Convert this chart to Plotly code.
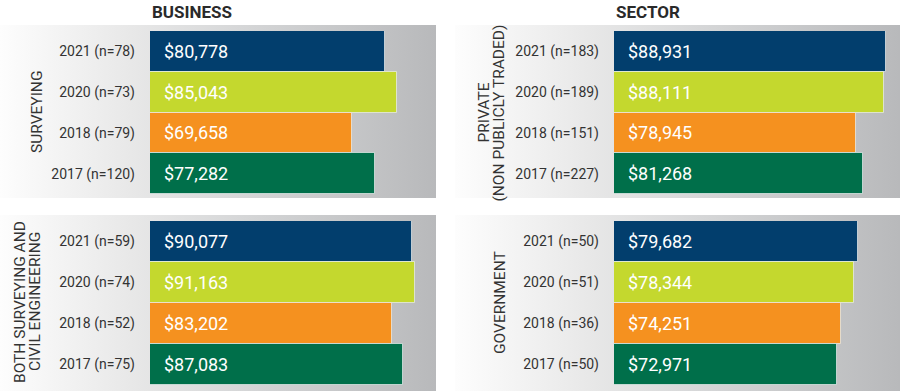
import plotly.graph_objects as go

# ---- data ----
years = ["2021", "2020", "2018", "2017"]
bar_colors = ["#023e6d", "#c4d82e", "#f5911f", "#006f4a"]

panel_titles = ["BUSINESS", "SECTOR"]
group_labels = ["SURVEYING", "PRIVATE<br>(NON PUBLICLY TRADED)",
                "BOTH SURVEYING AND<br>CIVIL ENGINEERING", "GOVERNMENT"]

surveying_n = [78, 73, 79, 120]
surveying_vals = [80778, 85043, 69658, 77282]

private_n = [183, 189, 151, 227]
private_vals = [88931, 88111, 78945, 81268]

both_n = [59, 74, 52, 75]
both_vals = [90077, 91163, 83202, 87083]

gov_n = [50, 51, 36, 50]
gov_vals = [79682, 78344, 74251, 72971]

panels = [
    (surveying_n, surveying_vals),
    (private_n, private_vals),
    (both_n, both_vals),
    (gov_n, gov_vals),
]

W, H = 900, 391
FONT = "Roboto"

fig = go.Figure()

# ---- background panels (gradient) on a full-figure axis ----
bg_boxes = [(0, 436, 25, 198), (455, 900, 25, 198), (0, 436, 215, 391), (455, 900, 215, 391)]
for (x0, x1, y0, y1) in bg_boxes:
    fig.add_trace(go.Scatter(
        x=[x0, x1, x1, x0, x0], y=[y0, y0, y1, y1, y0],
        mode="lines", line=dict(width=0), fill="toself",
        fillgradient=dict(type="horizontal",
                          colorscale=[[0, "#fdfdfd"], [0.3, "#e8e8e8"], [0.55, "#d6d7d8"], [1, "#b8b9bb"]]),
        hoverinfo="skip", showlegend=False, xaxis="x", yaxis="y"))

fig.update_layout(
    xaxis=dict(domain=[0, 1], range=[0, W], visible=False, fixedrange=True),
    yaxis=dict(domain=[0, 1], range=[H, 0], visible=False, fixedrange=True),
)

# ---- bar panels ----
x_dom = [[150 / W, 436 / W], [614 / W, 1.0]]
x_max = [98450, 93460]
y_dom = [[1 - 194 / H, 1 - 31 / H], [1 - 385 / H, 1 - 221 / H]]

annotations = []
for i, (ns, vals) in enumerate(panels):
    col = i % 2
    row = i // 2
    k = i + 2
    xa, ya = f"x{k}", f"y{k}"
    cats = [f"{y} (n={n})" for y, n in zip(years, ns)]
    fig.add_trace(go.Bar(
        x=vals, y=cats, orientation="h",
        marker=dict(color=bar_colors, line=dict(color="rgba(235,240,240,0.7)", width=1)),
        hoverinfo="skip", showlegend=False, xaxis=xa, yaxis=ya))
    fig.layout[f"xaxis{k}"] = dict(domain=x_dom[col], range=[0, x_max[col]], visible=False,
                                   anchor=ya, fixedrange=True)
    fig.layout[f"yaxis{k}"] = dict(domain=y_dom[row], anchor=xa, type="category",
                                   autorange="reversed", showgrid=False, zeroline=False,
                                   showline=False, ticks="", ticklabelstandoff=14,
                                   tickfont=dict(family=FONT, size=14, color="#333333"),
                                   fixedrange=True)
    for c, v in zip(cats, vals):
        annotations.append(dict(x=0, y=c, xref=xa, yref=ya, text=f"${v:,}",
                                showarrow=False, xanchor="left", yanchor="middle", xshift=12,
                                font=dict(family=FONT, size=18, color="white")))

# ---- titles ----
for t, xp in zip(panel_titles, [150, 614]):
    annotations.append(dict(x=xp / W, y=1 - 12 / H, xref="paper", yref="paper", text=f"<b>{t}</b>",
                            showarrow=False, xanchor="left", yanchor="middle",
                            font=dict(family=FONT, size=17, color="#2a2a2a")))

# ---- rotated group labels (one annotation per line) ----
label_pos = [(37, 112), (491, 113), (27.5, 302), (500, 303)]
LINE_SP = 15
for lab, (px, py) in zip(group_labels, label_pos):
    lines = lab.split("<br>")
    nl = len(lines)
    for j, ln in enumerate(lines):
        cx = px + (j - (nl - 1) / 2) * LINE_SP
        annotations.append(dict(x=cx / W, y=1 - py / H, xref="paper", yref="paper", text=ln,
                                showarrow=False, textangle=-90, xanchor="center", yanchor="middle",
                                font=dict(family=FONT, size=15.5, color="#333333")))

fig.update_layout(
    width=W, height=H, margin=dict(l=0, r=0, t=0, b=0),
    paper_bgcolor="white", plot_bgcolor="rgba(0,0,0,0)",
    bargap=0, annotations=annotations, showlegend=False,
)

fig.write_html("out.html", config={"displayModeBar": False},
               post_script="document.body.style.margin='0';document.body.style.overflow='hidden';")
